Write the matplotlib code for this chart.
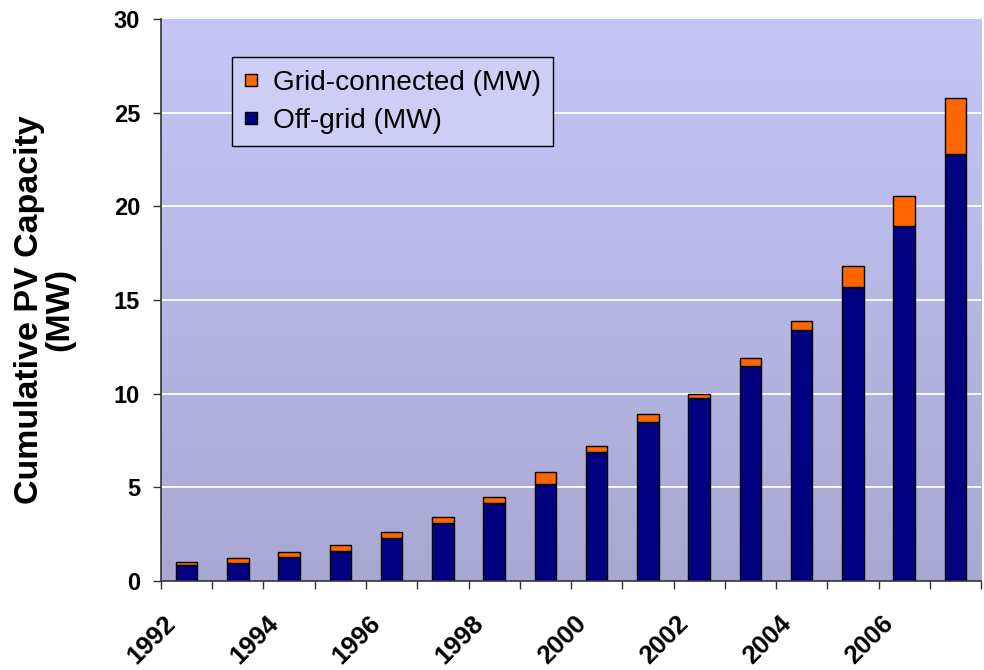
import numpy as np
import matplotlib
matplotlib.use("Agg")
import matplotlib.pyplot as plt
from matplotlib.lines import Line2D

plt.rcParams['font.family'] = ['Liberation Sans', 'DejaVu Sans']

years = list(range(1992, 2008))
off_grid = [0.86, 0.98, 1.30, 1.60, 2.32, 3.09, 4.15, 5.2, 6.9, 8.5, 9.75, 11.5, 13.4, 15.7, 18.95, 22.8]
total = [1.0, 1.21, 1.53, 1.93, 2.62, 3.40, 4.48, 5.8, 7.2, 8.9, 10.0, 11.9, 13.9, 16.8, 20.55, 25.8]
grid_conn = [t - o for t, o in zip(total, off_grid)]
tick_years = ["1992", "1994", "1996", "1998", "2000", "2002", "2004", "2006"]

navy = "#000080"
orange = "#ff6600"

fig = plt.figure(figsize=(9.84, 6.7), dpi=100)
ax = fig.add_axes([0.1636, 0.1328, 0.8334, 0.8388])

n = len(years)
x = np.arange(n) + 0.5
ax.set_xlim(0, n)
ax.set_ylim(0, 30)

# gradient background
grad = np.linspace(0, 1, 256).reshape(-1, 1)
top_c = np.array([0xc6, 0xc6, 0xf8]) / 255
bot_c = np.array([0xa8, 0xa8, 0xd2]) / 255
img = bot_c + grad * (top_c - bot_c)
ax.imshow(img[:, None, :].repeat(2, axis=1), extent=[0, n, 0, 30], origin="lower",
          aspect="auto", zorder=0)

for yv in [5, 10, 15, 20, 25]:
    ax.axhline(yv, color="white", lw=1.3, zorder=1)

ax.bar(x, off_grid, width=0.42, color=navy, edgecolor="black", lw=1, zorder=2)
ax.bar(x, grid_conn, width=0.42, bottom=off_grid, color=orange, edgecolor="black", lw=1, zorder=2)

for s in ["top", "right"]:
    ax.spines[s].set_visible(False)
for s in ["left", "bottom"]:
    ax.spines[s].set_color("#333333")
    ax.spines[s].set_linewidth(1.2)

ax.set_yticks([0, 5, 10, 15, 20, 25, 30])
ax.set_yticklabels(["0", "5", "10", "15", "20", "25", "30"], fontsize=17, fontweight="bold")
ax.tick_params(axis="y", length=6, width=1, color="#333333", pad=9)

ax.set_xticks(np.arange(n + 1))
ax.set_xticklabels([])
ax.tick_params(axis="x", length=6, width=1, color="#333333")
for i, lab in enumerate(tick_years):
    ax.text(2 * i + 0.05, -1.6, lab, rotation=45, ha="right", va="top",
            rotation_mode="anchor", fontsize=18.5, fontweight="bold")

ax.set_ylabel("Cumulative PV Capacity\n(MW)", fontsize=24.5, fontweight="bold",
              linespacing=0.95)
ax.yaxis.set_label_coords(-0.1049, 0.483)

handles = [Line2D([], [], ls="", marker="s", markersize=8.5, markerfacecolor=orange,
                  markeredgecolor="black", markeredgewidth=1, label="Grid-connected (MW)"),
           Line2D([], [], ls="", marker="s", markersize=8.5, markerfacecolor=navy,
                  markeredgecolor="black", markeredgewidth=1, label="Off-grid (MW)")]
leg = ax.legend(handles=handles, loc="upper left", bbox_to_anchor=(0.0866, 0.932),
                borderaxespad=0, fontsize=20.2, frameon=True, fancybox=False,
                facecolor="#cdcdf6", framealpha=1,
                edgecolor="black", handlelength=0.45,
                handletextpad=0.55, borderpad=0.45, labelspacing=0.42)
leg.get_frame().set_linewidth(1)

fig.savefig("out.png", dpi=100)
